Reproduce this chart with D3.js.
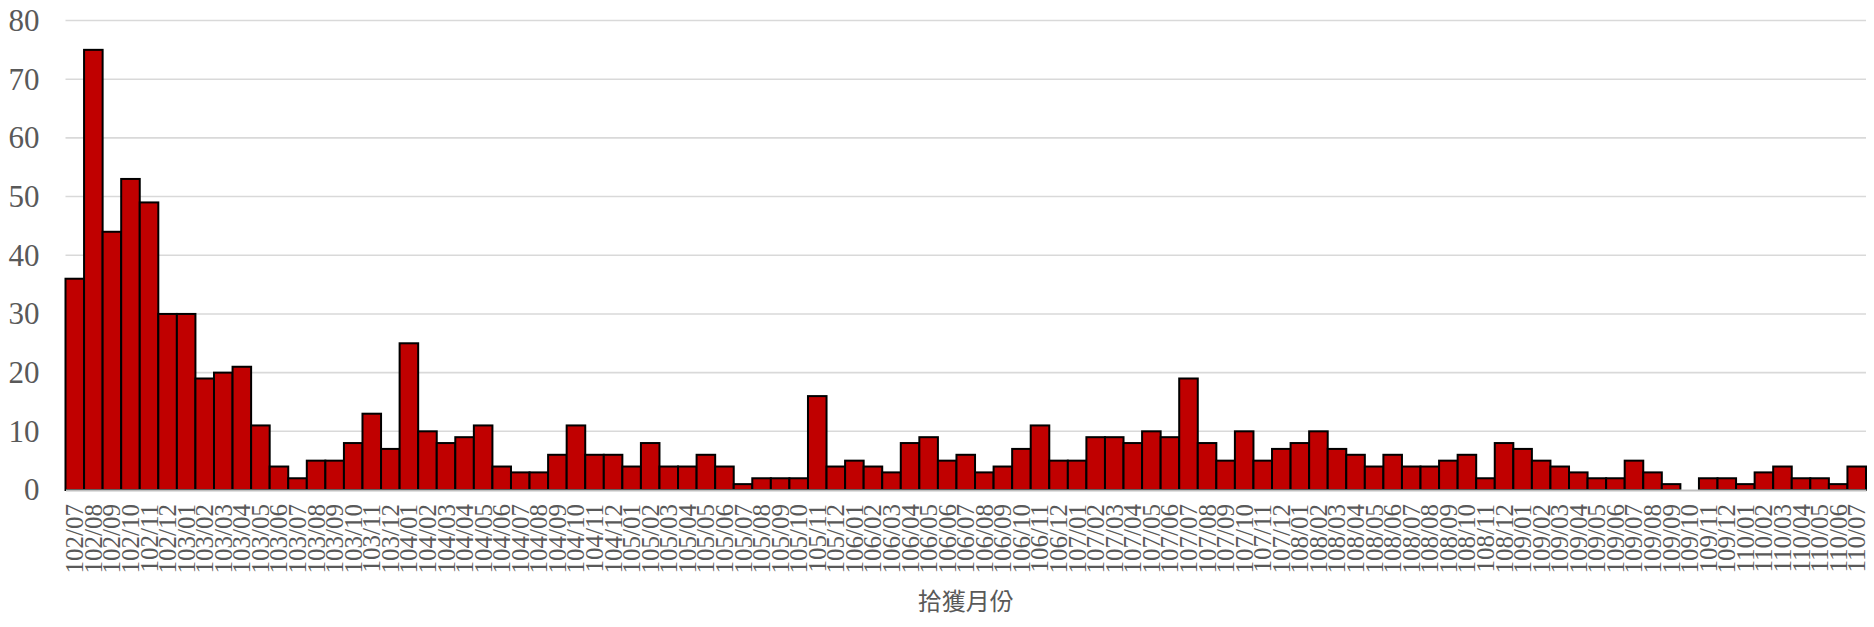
<!DOCTYPE html>
<html>
<head>
<meta charset="utf-8">
<script src="https://cdn.jsdelivr.net/npm/d3@7/dist/d3.min.js"></script>
<style>
  html, body { margin: 0; padding: 0; background: #fff; }
</style>
</head>
<body>
<div id="chart"></div>
<script>
'use strict';

// 拾獲月份 (ROC year/month)
var months = [
  '102/07', '102/08', '102/09', '102/10', '102/11', '102/12',
  '103/01', '103/02', '103/03', '103/04', '103/05', '103/06', '103/07', '103/08', '103/09', '103/10', '103/11', '103/12',
  '104/01', '104/02', '104/03', '104/04', '104/05', '104/06', '104/07', '104/08', '104/09', '104/10', '104/11', '104/12',
  '105/01', '105/02', '105/03', '105/04', '105/05', '105/06', '105/07', '105/08', '105/09', '105/10', '105/11', '105/12',
  '106/01', '106/02', '106/03', '106/04', '106/05', '106/06', '106/07', '106/08', '106/09', '106/10', '106/11', '106/12',
  '107/01', '107/02', '107/03', '107/04', '107/05', '107/06', '107/07', '107/08', '107/09', '107/10', '107/11', '107/12',
  '108/01', '108/02', '108/03', '108/04', '108/05', '108/06', '108/07', '108/08', '108/09', '108/10', '108/11', '108/12',
  '109/01', '109/02', '109/03', '109/04', '109/05', '109/06', '109/07', '109/08', '109/09', '109/10', '109/11', '109/12',
  '110/01', '110/02', '110/03', '110/04', '110/05', '110/06', '110/07'
];

var counts = [
  36, 75, 44, 53, 49, 30,
  30, 19, 20, 21, 11, 4, 2, 5, 5, 8, 13, 7,
  25, 10, 8, 9, 11, 4, 3, 3, 6, 11, 6, 6,
  4, 8, 4, 4, 6, 4, 1, 2, 2, 2, 16, 4,
  5, 4, 3, 8, 9, 5, 6, 3, 4, 7, 11, 5,
  5, 9, 9, 8, 10, 9, 19, 8, 5, 10, 5, 7,
  8, 10, 7, 6, 4, 6, 4, 4, 5, 6, 2, 8,
  7, 5, 4, 3, 2, 2, 5, 3, 1, 0, 2, 2,
  1, 3, 4, 2, 2, 1, 4
];

var yTicks = [0, 10, 20, 30, 40, 50, 60, 70, 80];
var xTitle = '拾獲月份';

var serif = '"Liberation Serif", "Times New Roman", "DejaVu Serif", serif';

var margin = { top: 20.5, right: 8, bottom: 137, left: 65.5 };
var width = 1874 - margin.left - margin.right;
var height = 627 - margin.top - margin.bottom;

var data = months.map(function (m, i) {
  return { month: m, count: counts[i] };
});

var x = d3.scaleBand().domain(months).range([0, width]).paddingInner(0).paddingOuter(0);
var y = d3.scaleLinear().domain([0, 80]).range([height, 0]);

var svg = d3.select('#chart').append('svg')
  .attr('width', 1874).attr('height', 627)
  .append('g')
  .attr('transform', 'translate(' + margin.left + ',' + margin.top + ')');

// gridlines
svg.append('g').selectAll('line').data(yTicks.slice(1)).enter().append('line')
  .attr('x1', 0).attr('x2', width)
  .attr('y1', function (d) { return y(d); })
  .attr('y2', function (d) { return y(d); })
  .style('stroke', '#d9d9d9').style('stroke-width', 1.6);

// y axis labels
var yAxis = d3.axisLeft(y).tickValues(yTicks).tickSize(0).tickPadding(26);
var yAxisSvg = svg.append('g').call(yAxis).attr('font-family', serif);
yAxisSvg.select('.domain').remove();
yAxisSvg.selectAll('text')
  .style('font-family', serif)
  .style('font-size', '31px')
  .style('fill', '#595959');

// bars
svg.append('g').selectAll('rect').data(data).enter().append('rect')
  .attr('x', function (d) { return x(d.month); })
  .attr('y', function (d) { return y(d.count); })
  .attr('width', x.bandwidth())
  .attr('height', function (d) { return height - y(d.count); })
  .style('fill', '#c00000')
  .style('stroke', function (d) { return d.count > 0 ? '#000' : 'none'; })
  .style('stroke-width', 2);

// x axis
var xAxis = d3.axisBottom(x).tickSize(0).tickPadding(0);
var xAxisSvg = svg.append('g').attr('font-family', serif)
  .attr('transform', 'translate(0,' + height + ')').call(xAxis);
xAxisSvg.select('.domain').style('stroke', '#bfbfbf').style('stroke-width', 2);
xAxisSvg.selectAll('text')
  .style('font-family', serif)
  .style('font-size', '25px')
  .style('fill', '#595959')
  .style('text-anchor', 'end')
  .attr('dy', null)
  .attr('y', 0)
  .attr('transform', 'translate(0,14) rotate(-90)')
  .attr('dominant-baseline', 'central');

// axis title
svg.append('text')
  .attr('x', width / 2)
  .attr('y', height + 120)
  .attr('text-anchor', 'middle')
  .style('font-family', '"Noto Sans CJK TC", "Noto Sans CJK SC", sans-serif')
  .style('font-size', '24px')
  .style('fill', '#595959')
  .text(xTitle);
</script>
</body>
</html>
